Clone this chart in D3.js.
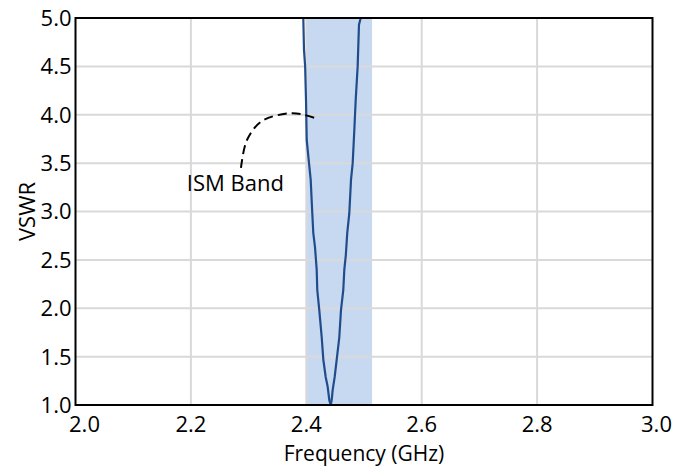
<!DOCTYPE html>
<html>
<head>
<meta charset="utf-8">
<script src="https://cdn.jsdelivr.net/npm/d3@7"></script>
<style>
  body { margin: 0; background: #fff; }
  text { font-family: "Open Sans", sans-serif; fill: #000; }
</style>
</head>
<body>
<svg id="chart" width="675" height="470"></svg>
<script>
const freq = [2.3948, 2.396, 2.398, 2.3995, 2.4007, 2.4047, 2.4076, 2.4104, 2.4121, 2.4151,
  2.418, 2.419, 2.4225, 2.4267, 2.4295, 2.4336, 2.437, 2.4399, 2.4423, 2.444, 2.4458,
  2.4492, 2.4527, 2.4572, 2.4601, 2.4641, 2.4659, 2.4685, 2.471, 2.4745, 2.4775, 2.4804,
  2.4832, 2.4856, 2.489, 2.4913, 2.4943];
const vswr = [5.0, 4.67, 4.50, 4.15, 3.74, 3.50, 3.33, 2.98, 2.78, 2.63,
  2.40, 2.19, 1.98, 1.70, 1.47, 1.29, 1.19, 1.05, 1.0, 1.05, 1.16,
  1.29, 1.47, 1.70, 1.98, 2.19, 2.40, 2.55, 2.78, 2.98, 3.33, 3.50,
  3.84, 4.15, 4.50, 4.93, 5.0];
const xTicks = [2.0, 2.2, 2.4, 2.6, 2.8, 3.0];
const yTicks = [1.0, 1.5, 2.0, 2.5, 3.0, 3.5, 4.0, 4.5, 5.0];
const ismBand = [2.4, 2.514];
const bandLabel = "ISM Band";
const bandLabelPos = [2.277, 3.215];
const calloutF = [2.2868, 2.2972, 2.3232, 2.3718, 2.3978, 2.4208];
const calloutV = [3.450, 3.739, 3.935, 4.015, 3.997, 3.953];

const svg = d3.select("#chart");
const x = d3.scaleLinear().domain([2.0, 3.0]).range([75.5, 652.5]);
const y = d3.scaleLinear().domain([1.0, 5.0]).range([405, 18]);

svg.append("clipPath").attr("id", "plot")
  .append("rect")
  .attr("x", x(2.0)).attr("y", y(5.0))
  .attr("width", x(3.0) - x(2.0)).attr("height", y(1.0) - y(5.0));

// bande ISM
svg.append("rect")
  .attr("x", x(ismBand[0]))
  .attr("y", y(5.0))
  .attr("width", x(ismBand[1]) - x(ismBand[0]))
  .attr("height", y(1.0) - y(5.0))
  .attr("fill", "#c6d9f1");

// grille
svg.append("g").selectAll("line")
  .data(yTicks.slice(1, -1))
  .enter().append("line")
  .attr("x1", x(2.0)).attr("x2", x(3.0))
  .attr("y1", d => y(d)).attr("y2", d => y(d))
  .attr("stroke", "#d9d9d9").attr("stroke-width", 2);

svg.append("g").selectAll("line")
  .data(xTicks.slice(1, -1))
  .enter().append("line")
  .attr("x1", d => x(d)).attr("x2", d => x(d))
  .attr("y1", y(1.0)).attr("y2", y(5.0))
  .attr("stroke", "#d9d9d9").attr("stroke-width", 2);

// courbe
const pts = freq.map((f, i) => [f, vswr[i]]);
svg.append("path")
  .datum(pts)
  .attr("clip-path", "url(#plot)")
  .attr("fill", "none")
  .attr("stroke", "#214c8c")
  .attr("stroke-width", 2.2)
  .attr("d", d3.line().x(d => x(d[0])).y(d => y(d[1])));

// cadre
svg.append("rect")
  .attr("x", x(2.0)).attr("y", y(5.0))
  .attr("width", x(3.0) - x(2.0)).attr("height", y(1.0) - y(5.0))
  .attr("fill", "none").attr("stroke", "#000").attr("stroke-width", 2);

// étiquettes des axes
svg.append("g").selectAll("text")
  .data(yTicks)
  .enter().append("text")
  .attr("x", x(2.0) - 4)
  .attr("y", d => y(d))
  .attr("dy", "0.36em")
  .attr("text-anchor", "end")
  .style("font-size", "22px")
  .text(d => d.toFixed(1));

svg.append("g").selectAll("text")
  .data(xTicks)
  .enter().append("text")
  .attr("x", (d, i) => x(d) + (i === 0 ? 9 : i === xTicks.length - 1 ? 4 : 0))
  .attr("y", 432)
  .attr("text-anchor", "middle")
  .style("font-size", "22px")
  .text(d => d.toFixed(1));

svg.append("text")
  .attr("transform", `translate(35, ${(y(1.0) + y(5.0)) / 2}) rotate(-90)`)
  .attr("text-anchor", "middle")
  .style("font-size", "22px")
  .text("VSWR");

svg.append("text")
  .attr("x", (x(2.0) + x(3.0)) / 2)
  .attr("y", 461)
  .attr("text-anchor", "middle")
  .style("font-size", "21px")
  .text("Frequency (GHz)");

// annotation
svg.append("path")
  .datum(calloutF.map((f, i) => [f, calloutV[i]]))
  .attr("fill", "none")
  .attr("stroke", "#000")
  .attr("stroke-width", 2)
  .attr("stroke-dasharray", "9,5")
  .attr("d", d3.line().curve(d3.curveCatmullRom).x(d => x(d[0])).y(d => y(d[1])));

svg.append("text")
  .attr("x", x(bandLabelPos[0]))
  .attr("y", y(bandLabelPos[1]))
  .attr("text-anchor", "middle")
  .style("font-size", "22px")
  .text(bandLabel);
</script>
</body>
</html>
